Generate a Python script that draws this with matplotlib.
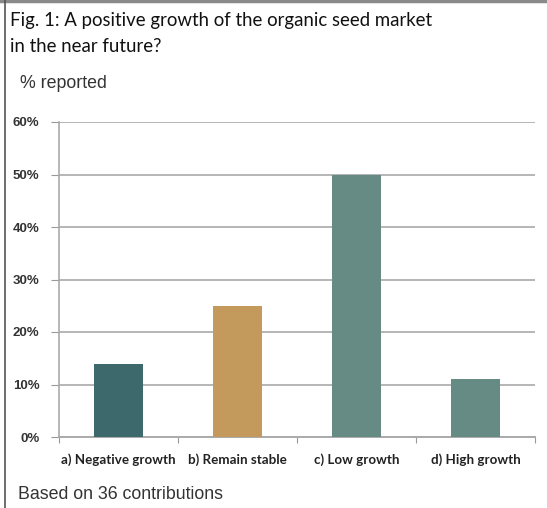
import matplotlib
matplotlib.use("Agg")
import matplotlib.pyplot as plt
from matplotlib.lines import Line2D

# data (36 contributions)
categories = ["a) Negative growth", "b) Remain stable", "c) Low growth", "d) High growth"]
shares = [5 / 36, 9 / 36, 18 / 36, 4 / 36]
colours = ["#3d696c", "#c49a5c", "#668a84", "#668a84"]
yticks = [0, 0.1, 0.2, 0.3, 0.4, 0.5, 0.6]
ylabels = ["0%", "10%", "20%", "30%", "40%", "50%", "60%"]

fig = plt.figure(figsize=(5.47, 5.08), dpi=100)
W, H = 547, 508

# frame lines of the figure box (top and left only)
fig.add_artist(Line2D([0, 1], [1 - 1 / H, 1 - 1 / H], color="#8a8a8a", lw=2.5))
fig.add_artist(Line2D([4.5 / W, 4.5 / W], [0, 1], color="#555555", lw=1.2))

fig.text(10 / W, 1 - 26 / H, "Fig. 1: A positive growth of the organic seed market",
         fontsize=13.4, family="Lato", va="baseline", color="#111111")
fig.text(10 / W, 1 - 52 / H, "in the near future?",
         fontsize=13.4, family="Lato", va="baseline", color="#111111")
fig.text(20 / W, 1 - 88 / H, "% reported", fontsize=12.8,
         family="Liberation Sans", va="baseline", color="#333333")
fig.text(18 / W, 1 - 499 / H, "Based on 36 contributions", fontsize=12.8,
         family="Liberation Sans", va="baseline", color="#333333")

ax = fig.add_axes([59 / W, 71 / H, 476 / W, 315 / H])
x = range(len(categories))
ax.bar(x, shares, width=0.42, color=colours, zorder=3)

ax.set_xlim(-0.5, 3.5)
ax.set_ylim(0, 0.6)
ax.set_yticks(yticks)
ax.set_yticklabels(ylabels, family="Liberation Sans", fontsize=9.5,
                   fontweight="bold", color="#333333")
ax.yaxis.grid(True, color="#b5b5b5", lw=1.4, zorder=0)

ax.set_xticks([-0.5, 0.5, 1.5, 2.5, 3.5])
ax.set_xticklabels([])
ax.set_xticks(list(x), minor=True)
ax.set_xticklabels(categories, minor=True, family="Lato", fontsize=9.6,
                   fontweight="bold", color="#222222")
ax.tick_params(axis="x", which="minor", length=0, pad=12)
ax.tick_params(axis="x", which="major", length=4, color="#999999", direction="out")
ax.tick_params(axis="y", length=6, color="#999999", pad=8)

for s in ["top", "right"]:
    ax.spines[s].set_visible(False)
ax.spines["left"].set_color("#aaaaaa")
ax.spines["bottom"].set_color("#aaaaaa")
ax.spines["left"].set_linewidth(1.2)
ax.spines["bottom"].set_linewidth(1.4)

fig.savefig("out.png", dpi=100)
